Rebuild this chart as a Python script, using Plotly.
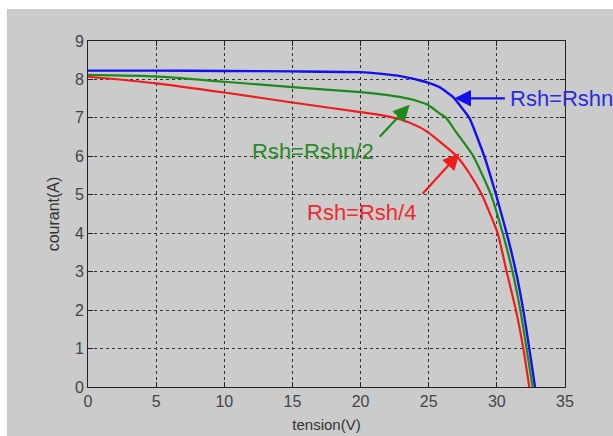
import plotly.graph_objects as go

# Data (tension V, courant A)
v_rshn = [0, 5, 10, 15, 20, 21.4, 23.0, 24.3, 24.93, 25.79, 26.76, 27.5, 27.98, 29.08, 29.94, 30.72, 31.4, 31.94, 32.38, 32.8]
i_rshn = [8.23, 8.23, 8.22, 8.21, 8.19, 8.15, 8.08, 7.98, 7.92, 7.80, 7.55, 7.23, 7.0, 6.0, 5.0, 4.0, 3.0, 2.0, 1.0, 0.0]

v_rshn2 = [0, 5, 10, 15, 20, 22, 23.5, 24.32, 24.93, 25.79, 26.28, 27.01, 28.28, 29.57, 30.43, 31.15, 31.72, 32.18, 32.62]
i_rshn2 = [8.12, 8.08, 7.94, 7.80, 7.67, 7.59, 7.50, 7.42, 7.34, 7.12, 7.0, 6.63, 6.0, 5.0, 4.0, 3.0, 2.0, 1.0, 0.0]

v_rsh4 = [0, 5, 10, 15, 20, 21.4, 23.0, 24.32, 24.93, 26.03, 27.01, 27.98, 28.9, 30.06, 30.72, 31.4, 31.94, 32.38]
i_rsh4 = [8.07, 7.90, 7.66, 7.40, 7.15, 7.08, 6.95, 6.76, 6.63, 6.32, 6.02, 5.56, 5.0, 4.0, 3.0, 2.0, 1.0, 0.0]

x_ticks = [0, 5, 10, 15, 20, 25, 30, 35]
y_ticks = [0, 1, 2, 3, 4, 5, 6, 7, 8, 9]

BLUE = "#1010f0"
GREEN = "#1c8a1c"
RED = "#f01c1c"

fig = go.Figure()
for v, i, c, w in [(v_rshn, i_rshn, BLUE, 2.4), (v_rshn2, i_rshn2, GREEN, 2.2), (v_rsh4, i_rsh4, RED, 2.2)]:
    fig.add_trace(go.Scatter(x=v, y=i, mode="lines", line=dict(color=c, width=w, shape="spline", smoothing=0.5),
                             showlegend=False, hoverinfo="skip"))

# gray figure background (with thin white strips on top/left like the screenshot)
fig.add_shape(type="rect", xref="paper", yref="paper", x0=-0.17, x1=1.2, y0=-0.3, y1=1.0925,
              fillcolor="#cbcbcb", line=dict(width=0), layer="below")

annots = [
    # (text, tip x, tip y, tail x, tail y, text x, text y, text colour, arrow colour, anchor)
    ("Rsh=Rshn", 26.89, 7.51, 30.7, 7.51, 30.8, 7.51, "#2a2ae0", BLUE, "left"),
    ("Rsh=Rshn/2", 23.6, 7.34, 21.3, 6.47, 16.5, 6.12, "#2a8a2a", GREEN, "center"),
    ("Rsh=Rsh/4", 27.25, 6.08, 24.45, 4.99, 20.1, 4.53, "#ee2a2a", RED, "center"),
]
for text, tx, ty, ax, ay, lx, ly, tc, ac, anc in annots:
    fig.add_annotation(x=tx, y=ty, ax=ax, ay=ay, xref="x", yref="y", axref="x", ayref="y",
                       text="", showarrow=True, arrowhead=2, arrowsize=1.5, arrowwidth=2.2, arrowcolor=ac)
    fig.add_annotation(x=lx, y=ly, xref="x", yref="y", text=text, showarrow=False, xanchor=anc,
                       font=dict(family="Liberation Sans, Arial", size=22, color=tc))

axis_common = dict(
    showline=True, linecolor="#222", linewidth=1, mirror="ticks",
    ticks="inside", ticklen=5, tickcolor="#222", automargin=False,
    showgrid=True, gridcolor="#333", gridwidth=1, griddash="3px,3px",
    zeroline=False, tickfont=dict(family="Liberation Sans, Arial", size=16, color="#444"),
)
fig.update_xaxes(range=[0, 35], tickvals=x_ticks, ticktext=[str(t) for t in x_ticks],
                 title=dict(text="tension(V)", font=dict(family="Liberation Sans, Arial", size=15, color="#333"), standoff=10),
                 **axis_common)
fig.update_yaxes(range=[0, 9], tickvals=y_ticks, ticktext=[str(t) for t in y_ticks],
                 title=dict(text="courant(A)", font=dict(family="Liberation Sans, Arial", size=16, color="#333"), standoff=11),
                 **axis_common)

fig.update_layout(width=613, height=436, margin=dict(l=88, r=48, t=41, b=49),
                  paper_bgcolor="white", plot_bgcolor="white")

fig.write_html("out.html")
